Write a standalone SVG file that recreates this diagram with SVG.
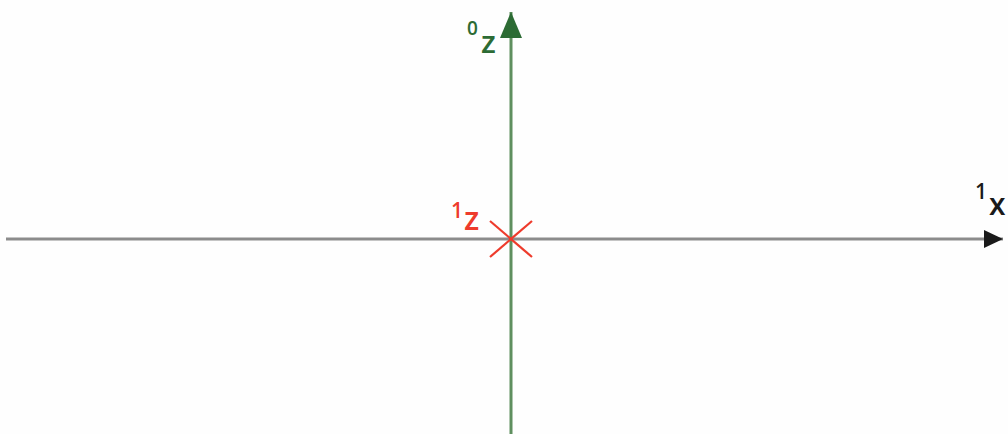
<svg xmlns="http://www.w3.org/2000/svg" width="1008" height="434" viewBox="0 0 1008 434">
<style>
.lbl{font-family:"Open Sans","Liberation Sans",sans-serif;font-weight:600}
</style>
<defs>
<marker id="ahK" markerUnits="userSpaceOnUse" markerWidth="20" markerHeight="22" viewBox="0 0 20 22" refX="19" refY="11" orient="auto"><path d="M0,2 L19,11 L0,20 Z" fill="#1a1a1a"/></marker>
<marker id="ahG" markerUnits="userSpaceOnUse" markerWidth="28" markerHeight="22" viewBox="0 0 28 22" refX="26" refY="11" orient="auto"><path d="M0,0 L26,11 L0,22 Z" fill="#2c6b34"/></marker>
</defs>
<rect width="1008" height="434" fill="#fefefe"/>
<g id="connectors">
<line x1="6" y1="239" x2="1003" y2="239" stroke="#8c8c8c" stroke-width="3" marker-end="url(#ahK)"/>
<line x1="511" y1="434" x2="511" y2="12" stroke="#5f8f5f" stroke-width="3" marker-end="url(#ahG)"/>
</g>
<g id="origin">
<line x1="490" y1="221" x2="532" y2="257" stroke="#ee3b2c" stroke-width="2.2"/>
<line x1="532" y1="221" x2="490" y2="257" stroke="#ee3b2c" stroke-width="2.2"/>
</g>
<g id="label-0z" class="lbl" fill="#2c6b34">
<text x="467" y="35" font-size="19">0</text>
<text x="481" y="53" font-size="31">z</text>
</g>
<g id="label-1z" class="lbl" fill="#ee3b2c">
<text x="451" y="218" font-size="21">1</text>
<text x="464" y="230" font-size="32">z</text>
</g>
<g id="label-1x" class="lbl" fill="#1a1a1a">
<text x="975" y="199" font-size="21">1</text>
<text x="989" y="215" font-size="30">x</text>
</g>
</svg>
